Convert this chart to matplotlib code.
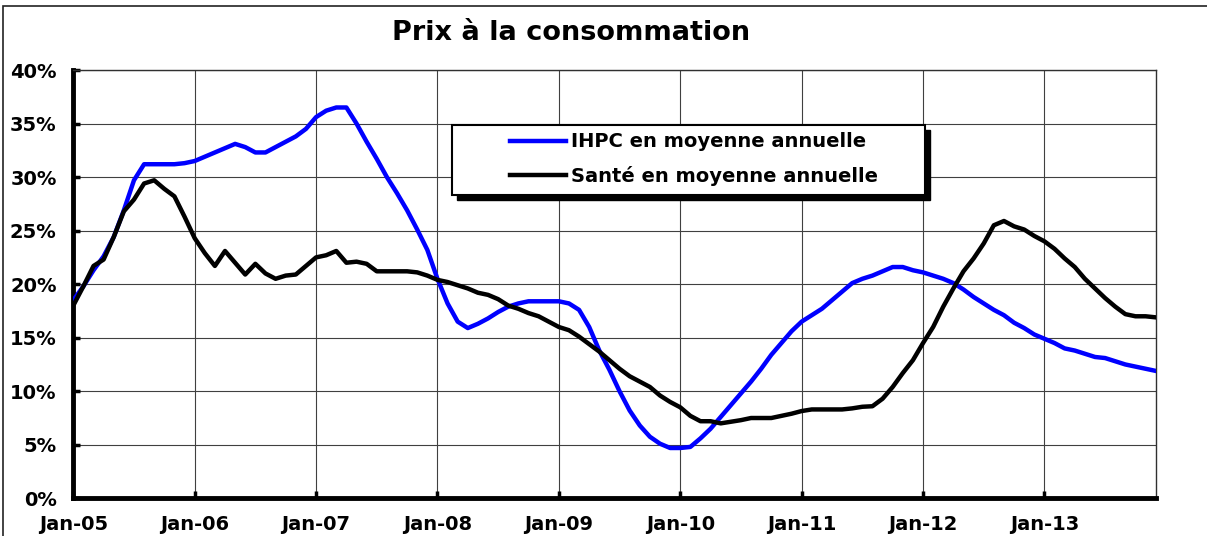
import numpy as np
import matplotlib
matplotlib.use("Agg")
import matplotlib.pyplot as plt
from matplotlib.patches import Rectangle
from matplotlib.ticker import FuncFormatter

# monthly series, Jan-05 .. Dec-13 (annual average growth, %)
ihpc = [18.5, 19.8, 21.3, 22.6, 24.4, 26.9, 29.7, 31.2, 31.2, 31.2,
        31.2, 31.3, 31.5, 31.9, 32.3, 32.7, 33.1, 32.8, 32.3, 32.3,
        32.8, 33.3, 33.8, 34.5, 35.6, 36.2, 36.5, 36.5, 35.0, 33.3,
        31.7, 30.0, 28.5, 26.9, 25.1, 23.2, 20.5, 18.2, 16.5, 15.9,
        16.3, 16.8, 17.4, 17.9, 18.2, 18.4, 18.4, 18.4, 18.4, 18.2,
        17.6, 16.0, 13.8, 12.0, 10.0, 8.2, 6.8, 5.75, 5.1, 4.7,
        4.7, 4.8, 5.6, 6.5, 7.6, 8.7, 9.8, 10.9, 12.1, 13.4,
        14.5, 15.6, 16.5, 17.1, 17.7, 18.5, 19.3, 20.1, 20.5, 20.8,
        21.2, 21.6, 21.6, 21.3, 21.1, 20.8, 20.5, 20.1, 19.5, 18.8,
        18.2, 17.6, 17.1, 16.4, 15.9, 15.3, 14.9, 14.5, 14.0, 13.8,
        13.5, 13.2, 13.1, 12.8, 12.5, 12.3, 12.1, 11.9]

sante = [18.0, 19.8, 21.7, 22.3, 24.4, 26.8, 27.9, 29.4, 29.7, 28.9,
         28.2, 26.3, 24.3, 22.9, 21.7, 23.1, 22.0, 20.9, 21.9, 21.0,
         20.5, 20.8, 20.9, 21.7, 22.5, 22.7, 23.1, 22.0, 22.1, 21.9,
         21.2, 21.2, 21.2, 21.2, 21.1, 20.8, 20.4, 20.2, 19.9, 19.6,
         19.2, 19.0, 18.6, 18.0, 17.7, 17.3, 17.0, 16.5, 16.0, 15.7,
         15.1, 14.4, 13.7, 12.9, 12.1, 11.4, 10.9, 10.4, 9.6, 9.0,
         8.5, 7.7, 7.2, 7.2, 7.0, 7.15, 7.3, 7.5, 7.5, 7.5,
         7.7, 7.9, 8.15, 8.3, 8.3, 8.3, 8.3, 8.4, 8.55, 8.6,
         9.3, 10.4, 11.7, 12.9, 14.5, 16.0, 17.9, 19.6, 21.2, 22.4,
         23.8, 25.5, 25.9, 25.4, 25.1, 24.5, 24.0, 23.3, 22.4, 21.6,
         20.5, 19.6, 18.7, 17.9, 17.2, 17.0, 17.0, 16.9]

year_labels = ["Jan-05", "Jan-06", "Jan-07", "Jan-08", "Jan-09",
               "Jan-10", "Jan-11", "Jan-12", "Jan-13"]
series_labels = ["IHPC en moyenne annuelle", "Santé en moyenne annuelle"]
title = "Prix à la consommation"

plt.rcParams["font.family"] = "DejaVu Sans"
plt.rcParams["font.weight"] = "bold"

months = np.arange(len(ihpc))

fig = plt.figure(figsize=(12.07, 5.36), dpi=100)
ax = fig.add_axes([0.0607, 0.0703, 0.8968, 0.7991])

# outer chart frame (only top and left edges visible)
fig.patches.append(Rectangle((3 / 1207, -0.2), 1.2, 1.2 - 6 / 536,
                             transform=fig.transFigure, fill=False,
                             edgecolor="#222222", linewidth=1.2))

ax.plot(months, ihpc, color="#0000ff", linewidth=3.2, label=series_labels[0],
        solid_joinstyle="round", zorder=3)
ax.plot(months, sante, color="black", linewidth=3.2, label=series_labels[1],
        solid_joinstyle="round", zorder=3)

ax.set_xlim(0, 107)
ax.set_ylim(0, 40)
ax.set_xticks(np.arange(0, 108, 12))
ax.set_xticklabels(year_labels)
ax.set_yticks(np.arange(0, 41, 5))
ax.yaxis.set_major_formatter(FuncFormatter(lambda v, p: f"{int(v)}%"))

ax.grid(True, color="#404040", linewidth=0.8)
ax.set_axisbelow(True)

for side in ["left", "bottom"]:
    ax.spines[side].set_linewidth(3.5)
    ax.spines[side].set_color("black")
for side in ["top", "right"]:
    ax.spines[side].set_linewidth(1.0)
    ax.spines[side].set_color("#303030")

ax.tick_params(axis="both", direction="in", length=5, width=2.5,
               color="black", labelsize=14)
ax.tick_params(axis="y", pad=12)
ax.tick_params(axis="x", pad=12)

fig.text(0.473, 0.938, title, ha="center", va="center",
         fontsize=19.5, fontweight="bold")

# legend box with drop shadow
lx, ly, lw_, lh = 0.3496, 0.7081, 0.4373, 0.1635
ax.add_patch(Rectangle((lx + 0.0046, ly - 0.0117), lw_, lh, transform=ax.transAxes,
                       facecolor="black", edgecolor="black", zorder=4))
ax.add_patch(Rectangle((lx, ly), lw_, lh, transform=ax.transAxes,
                       facecolor="white", edgecolor="black", linewidth=1.5, zorder=5))
leg = ax.legend(loc="center left", bbox_to_anchor=(0.4035, 0.7917),
                frameon=False, fontsize=14, handlelength=2.9, handletextpad=0.26,
                labelspacing=0.75, borderpad=0, borderaxespad=0)
leg.set_zorder(6)
for line in leg.get_lines():
    line.set_linewidth(3.2)

fig.savefig("out.png", dpi=100)
